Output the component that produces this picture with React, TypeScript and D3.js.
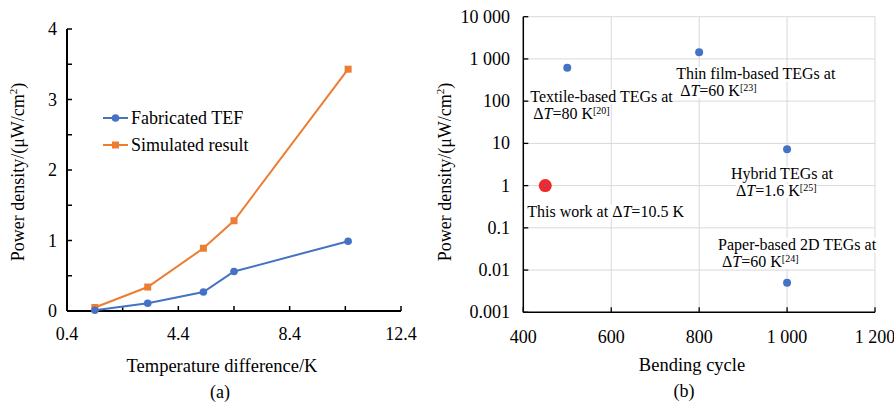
import React, { useEffect, useRef } from 'react';
import * as d3 from 'd3';

// (a) мощность от разности температур
const tempDiff = [1.4, 3.3, 5.3, 6.4, 10.5];
const fabricated = [0.01, 0.11, 0.27, 0.56, 0.99];
const simulated = [0.05, 0.34, 0.89, 1.28, 3.43];
const xTicksA = [0.4, 4.4, 8.4, 12.4];
const yTicksA = [0, 1, 2, 3, 4];
const seriesNames = ['Fabricated TEF', 'Simulated result'];

// (b) сравнение с литературой
const refCycles = [500, 800, 1000, 1000];
const refPower = [620, 1440, 7.3, 0.005];
const refLine1 = ['Textile-based TEGs at', 'Thin film-based TEGs at', 'Hybrid TEGs at', 'Paper-based 2D TEGs at'];
const refDelta = ['80 K', '60 K', '1.6 K', '60 K'];
const refCite = ['[20]', '[23]', '[25]', '[24]'];
const thisCycle = [450];
const thisPower = [1];
const thisLabel = 'This work at ';
const thisDelta = '10.5 K';
const xTicksB = [400, 600, 800, 1000, 1200];
const yTicksB = [0.001, 0.01, 0.1, 1, 10, 100, 1000, 10000];

// смещения подписей относительно точки (px)
const labelOffsets = [
  { dx: -37, dy: 34, dx2: 3 },
  { dx: -23, dy: 27, dx2: 4 },
  { dx: -56, dy: 30, dx2: 5 },
  { dx: -69, dy: -33, dx2: 4 },
];

const FONT = "'Liberation Serif', 'Times New Roman', serif";
const BLUE = '#4472c4';
const ORANGE = '#ed7d31';

const App = () => {
  const svgRef = useRef<SVGSVGElement>(null);

  useEffect(() => {
    const svg = d3.select(svgRef.current);
    svg.selectAll('*').remove();
    svg.style('font-family', FONT);

    // ---------- панель (a) ----------
    const xa = d3.scaleLinear().domain([0.4, 12.4]).range([67, 401]);
    const ya = d3.scaleLinear().domain([0, 4]).range([311, 29]);
    const ga = svg.append('g');

    // засечки внутрь
    d3.range(0.4, 12.41, 2).forEach(v => {
      ga.append('line').attr('x1', xa(v)).attr('x2', xa(v))
        .attr('y1', ya(0)).attr('y2', ya(0) - 5).attr('stroke', '#000').attr('stroke-width', 1.5);
    });
    d3.range(0, 4.01, 0.5).forEach(v => {
      ga.append('line').attr('x1', xa(0.4)).attr('x2', xa(0.4) + 5)
        .attr('y1', ya(v)).attr('y2', ya(v)).attr('stroke', '#000').attr('stroke-width', 1.5);
    });
    ga.append('line').attr('x1', xa(0.4)).attr('x2', xa(12.4)).attr('y1', ya(0)).attr('y2', ya(0))
      .attr('stroke', '#000').attr('stroke-width', 2);
    ga.append('line').attr('x1', xa(0.4)).attr('x2', xa(0.4)).attr('y1', ya(0)).attr('y2', ya(4))
      .attr('stroke', '#000').attr('stroke-width', 2);

    ga.selectAll('.xt').data(xTicksA).enter().append('text')
      .attr('x', d => xa(d)).attr('y', 340).attr('text-anchor', 'middle')
      .style('font-size', '18px').text(d => d.toFixed(1));
    ga.selectAll('.yt').data(yTicksA).enter().append('text')
      .attr('x', 57).attr('y', d => ya(d) + 6).attr('text-anchor', 'end')
      .style('font-size', '18px').text(d => d);

    const lineA = (vals: number[]) => d3.line<number>().x((_, i) => xa(tempDiff[i])).y(d => ya(d))(vals);
    ga.append('path').attr('d', lineA(simulated)).attr('fill', 'none').attr('stroke', ORANGE).attr('stroke-width', 2);
    ga.append('path').attr('d', lineA(fabricated)).attr('fill', 'none').attr('stroke', BLUE).attr('stroke-width', 2);
    ga.selectAll('.sq').data(simulated).enter().append('rect')
      .attr('x', (_, i) => xa(tempDiff[i]) - 3.5).attr('y', d => ya(d) - 3.5)
      .attr('width', 7).attr('height', 7).attr('fill', ORANGE);
    ga.selectAll('.ci').data(fabricated).enter().append('circle')
      .attr('cx', (_, i) => xa(tempDiff[i])).attr('cy', d => ya(d)).attr('r', 3.8).attr('fill', BLUE);

    // легенда
    seriesNames.forEach((name, i) => {
      const y = 118 + i * 27;
      const c = i === 0 ? BLUE : ORANGE;
      ga.append('line').attr('x1', 103).attr('x2', 128).attr('y1', y).attr('y2', y).attr('stroke', c).attr('stroke-width', 2);
      if (i === 0) ga.append('circle').attr('cx', 115.5).attr('cy', y).attr('r', 3.8).attr('fill', c);
      else ga.append('rect').attr('x', 112).attr('y', y - 3.5).attr('width', 7).attr('height', 7).attr('fill', c);
      ga.append('text').attr('x', 131).attr('y', y + 6).style('font-size', '18px').text(name);
    });

    ga.append('text').attr('x', 222).attr('y', 372).attr('text-anchor', 'middle')
      .style('font-size', '18.5px').text('Temperature difference/K');
    ga.append('text').attr('x', 220).attr('y', 398).attr('text-anchor', 'middle')
      .style('font-size', '18px').text('(a)');

    const yLabel = (g: any, x: number) => {
      const t = g.append('text').attr('transform', `translate(${x},172) rotate(-90)`)
        .attr('text-anchor', 'middle').style('font-size', '18px');
      t.append('tspan').text('Power density/(μW/cm');
      t.append('tspan').attr('dy', -7).style('font-size', '11px').text('2');
      t.append('tspan').attr('dy', 7).text(')');
    };
    yLabel(ga, 24);

    // ---------- панель (b) ----------
    const xb = d3.scaleLinear().domain([400, 1200]).range([523.3, 875]);
    const yb = d3.scaleLog().domain([0.001, 10000]).range([312.3, 16.7]);
    const gb = svg.append('g');

    yTicksB.slice(1).forEach(v => {
      gb.append('line').attr('x1', xb(400)).attr('x2', xb(1200)).attr('y1', yb(v)).attr('y2', yb(v))
        .attr('stroke', '#d9d9d9').attr('stroke-width', 1);
    });
    xTicksB.slice(1).forEach(v => {
      gb.append('line').attr('x1', xb(v)).attr('x2', xb(v)).attr('y1', yb(0.001)).attr('y2', yb(10000))
        .attr('stroke', '#d9d9d9').attr('stroke-width', 1);
    });
    xTicksB.forEach(v => {
      gb.append('line').attr('x1', xb(v)).attr('x2', xb(v)).attr('y1', yb(0.001)).attr('y2', yb(0.001) - 5)
        .attr('stroke', '#000').attr('stroke-width', 1.3);
    });
    yTicksB.forEach(v => {
      gb.append('line').attr('x1', xb(400)).attr('x2', xb(400) + 5).attr('y1', yb(v)).attr('y2', yb(v))
        .attr('stroke', '#000').attr('stroke-width', 1.3);
    });
    gb.append('line').attr('x1', xb(400)).attr('x2', xb(1200)).attr('y1', yb(0.001)).attr('y2', yb(0.001))
      .attr('stroke', '#000').attr('stroke-width', 1.5);
    gb.append('line').attr('x1', xb(400)).attr('x2', xb(400)).attr('y1', yb(0.001)).attr('y2', yb(10000))
      .attr('stroke', '#000').attr('stroke-width', 1.5);

    const fmt = (v: number) => v >= 1000 ? d3.format(',')(v).replace(/,/g, ' ') : String(v);
    gb.selectAll('.xt').data(xTicksB).enter().append('text')
      .attr('x', d => xb(d)).attr('y', 343).attr('text-anchor', 'middle')
      .style('font-size', '18px').text(d => fmt(d));
    gb.selectAll('.yt').data(yTicksB).enter().append('text')
      .attr('x', 510).attr('y', d => yb(d) + 6).attr('text-anchor', 'end')
      .style('font-size', '18px').text(d => fmt(d));

    // подписи с белым фоном
    const deltaText = (t: any, val: string, cite?: string) => {
      t.append('tspan').text('Δ');
      t.append('tspan').style('font-style', 'italic').text('T');
      t.append('tspan').text('=' + val);
      if (cite) t.append('tspan').attr('dy', -5).style('font-size', '10px').text(cite);
    };
    const addBg = (node: SVGTextElement) => {
      const b = node.getBBox();
      gb.insert('rect', () => node).attr('x', b.x).attr('y', b.y + 2)
        .attr('width', b.width).attr('height', b.height - 3).attr('fill', '#fff');
    };

    refCycles.forEach((c, i) => {
      const px = xb(c), py = yb(refPower[i]);
      const o = labelOffsets[i];
      const t1 = gb.append('text').attr('x', px + o.dx).attr('y', py + o.dy).style('font-size', '16px').text(refLine1[i]);
      const t2 = gb.append('text').attr('x', px + o.dx + o.dx2).attr('y', py + o.dy + 17).style('font-size', '16px');
      deltaText(t2, refDelta[i], refCite[i]);
      addBg(t1.node() as SVGTextElement);
      addBg(t2.node() as SVGTextElement);
    });
    const t3 = gb.append('text').attr('x', xb(thisCycle[0]) - 18).attr('y', yb(thisPower[0]) + 31).style('font-size', '16px');
    t3.append('tspan').text(thisLabel);
    deltaText(t3, thisDelta);
    addBg(t3.node() as SVGTextElement);

    gb.selectAll('.pt').data(refPower).enter().append('circle')
      .attr('cx', (_, i) => xb(refCycles[i])).attr('cy', d => yb(d)).attr('r', 4).attr('fill', BLUE);
    gb.selectAll('.tw').data(thisPower).enter().append('circle')
      .attr('cx', (_, i) => xb(thisCycle[i])).attr('cy', d => yb(d)).attr('r', 6.5).attr('fill', '#ee2a2e');
    gb.selectAll('.twc').data(thisPower).enter().append('circle')
      .attr('cx', (_, i) => xb(thisCycle[i])).attr('cy', d => yb(d)).attr('r', 1).attr('fill', BLUE);

    gb.append('text').attr('x', 692).attr('y', 371).attr('text-anchor', 'middle')
      .style('font-size', '18.5px').text('Bending cycle');
    gb.append('text').attr('x', 684).attr('y', 397).attr('text-anchor', 'middle')
      .style('font-size', '18px').text('(b)');
    yLabel(gb, 451);
  }, []);

  return (
    <svg ref={svgRef} width={894} height={403}
      style={{ position: 'absolute', left: 0, top: 0, background: '#fff' }} />
  );
};

export default App;
